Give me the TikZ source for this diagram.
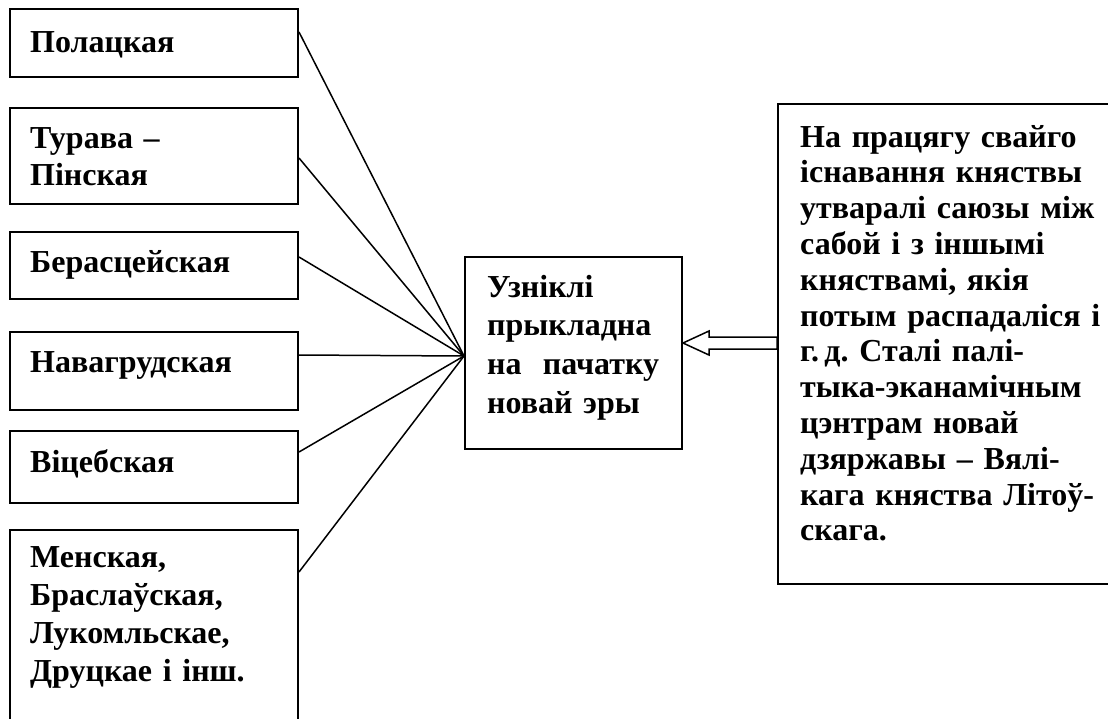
\documentclass[tikz,border=0pt]{standalone}
\usepackage{fontspec}
\setmainfont{Liberation Serif}
\usetikzlibrary{calc}
\newcommand{\jline}[1]{\makebox[\linewidth][s]{#1}}
\begin{document}
\begin{tikzpicture}[x=1pt,y=-1pt,
  frame/.style={draw, line width=2pt, inner sep=0pt, anchor=north west},
  lbl/.style={inner sep=0pt, anchor=base west, font=\fontsize{32}{37}\selectfont\bfseries, align=left},
  conn/.style={line width=1.5pt}]
\useasboundingbox (0,0) rectangle (1108,718);
% left boxes
\node[frame, minimum width=288pt, minimum height=68pt] (b1) at (9,8) {};
\node[frame, minimum width=288pt, minimum height=96pt] (b2) at (9,107) {};
\node[frame, minimum width=288pt, minimum height=67pt] (b3) at (9,231) {};
\node[frame, minimum width=288pt, minimum height=78pt] (b4) at (9,331) {};
\node[frame, minimum width=288pt, minimum height=72pt] (b5) at (9,430) {};
\node[frame, minimum width=288pt, minimum height=220pt] (b6) at (9,529) {};
% centre and right boxes
\node[frame, minimum width=217pt, minimum height=192pt] (c) at (464,256) {};
\node[frame, minimum width=345pt, minimum height=480pt] (r) at (777,103) {};
% texts
\node[lbl] (t1) at (30,52) {Полацкая};
\node[lbl, text width=250pt] (t2) at (30,148) {Турава –\\Пінская};
\node[lbl] (t3) at (30,272) {Берасцейская};
\node[lbl] (t4) at (30,372) {Навагрудская};
\node[lbl] (t5) at (30,472) {Віцебская};
\node[lbl, text width=250pt, font=\fontsize{32}{38}\selectfont\bfseries] (t6) at (30,567) {Менская,\\Браслаўская,\\Лукомльскае,\\Друцкае і інш.};
\node[lbl, text width=190pt, font=\fontsize{32}{38.7}\selectfont\bfseries] (tc) at (487,297) {Узніклі\\прыкладна\\\jline{на \ пачатку}\\новай эры};
\node[lbl, text width=303pt, font=\fontsize{32}{35.8}\selectfont\bfseries] (tr) at (800,147) {%
\jline{На працягу свайго}\\
\jline{існавання княствы}\\
\jline{утваралі саюзы між}\\
\jline{сабой і з іншымі}\\
\jline{княствамі, якія}\\
\jline{потым распадаліся і}\\
\jline{\mbox{г.\,д.} Сталі палі-}\\
тыка-эканамічным\\
\jline{цэнтрам новай}\\
\jline{дзяржавы – Вялі-}\\
\jline{кага княства Літоў-}\\
скага.};
% connectors
\coordinate (hub) at ($(c.north west)+(0,100)$);
\draw[conn] ($(b1.north east)+(0,24)$) -- (hub);
\draw[conn] ($(b2.north east)+(0,51)$) -- (hub);
\draw[conn] ($(b3.north east)+(0,26)$) -- (hub);
\draw[conn] ($(b4.north east)+(0,24)$) -- (hub);
\draw[conn] ($(b5.north east)+(0,22)$) -- (hub);
\draw[conn] ($(b6.north east)+(0,43)$) -- (hub);
% hollow arrow
\coordinate (tip) at ($(c.north east)+(0,87)$);
\coordinate (tail) at ($(r.north west)+(0,240)$);
\draw[conn, fill=white] (tip) -- ($(tip)+(26,-12)$) -- ($(tip)+(26,-6)$) -- ($(tail)+(0,-6)$) -- ($(tail)+(0,6)$) -- ($(tip)+(26,6)$) -- ($(tip)+(26,12)$) -- cycle;
\end{tikzpicture}
\end{document}
